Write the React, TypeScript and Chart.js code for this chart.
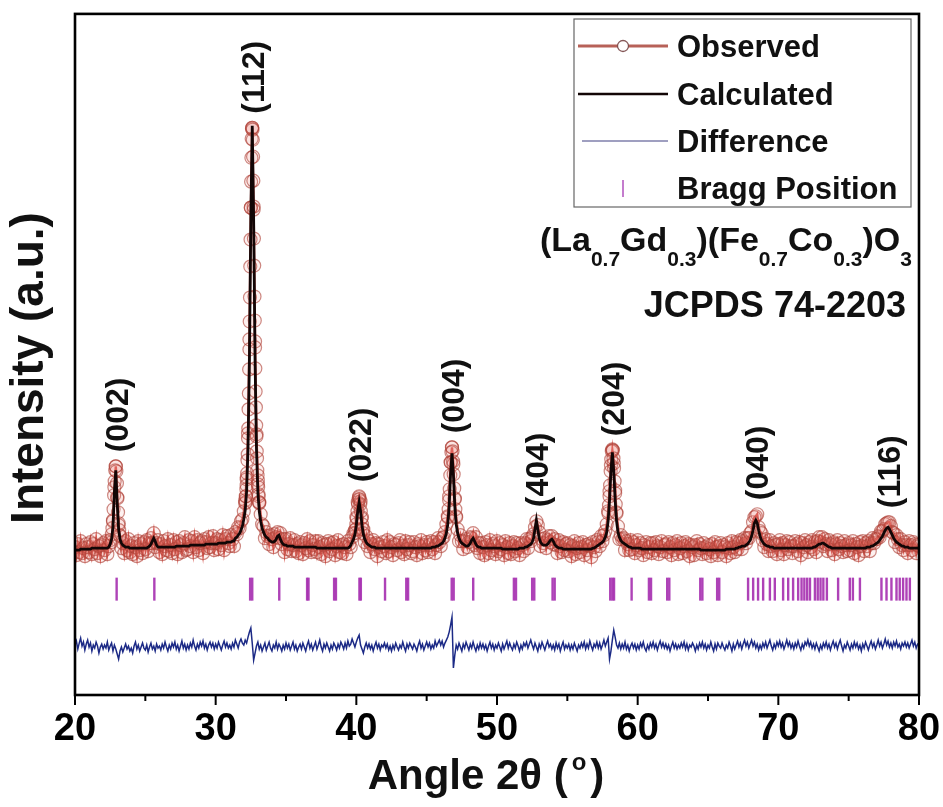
import { useEffect, useRef } from 'react';
import { Chart, registerables } from 'chart.js';

Chart.register(...registerables);

// ---------------- data ----------------
const ANGLE_START = 20;
const ANGLE_STEP = 0.1;

// Calculated profile (one row per degree, 0.1° step)
const calculated = [
  145,145,145,145,146,146,146,146,146,146, // 20
  146,146,147,147,147,147,147,147,147,147, // 21
  147,147,147,147,148,151,156,168,203,225, // 22
  192,166,156,152,150,149,148,148,148,147, // 23
  147,147,147,147,147,147,147,147,147,147, // 24
  147,147,148,149,151,154,157,154,150,148, // 25
  148,148,148,148,148,148,148,148,148,148, // 26
  148,148,149,149,149,149,149,149,149,149, // 27
  149,149,150,150,150,150,150,150,150,150, // 28
  150,150,150,151,151,151,151,151,151,151, // 29
  151,151,152,152,152,152,152,152,153,153, // 30
  153,153,154,154,157,158,160,162,165,169, // 31
  176,185,204,247,336,476,570,476,336,247, // 32
  203,184,174,167,163,160,158,157,155,154, // 33
  153,153,154,156,159,160,156,153,151,150, // 34
  150,149,149,149,149,149,148,148,148,148, // 35
  148,148,148,148,148,148,148,148,148,148, // 36
  148,148,147,147,147,147,147,147,147,147, // 37
  147,147,147,147,147,147,147,147,147,147, // 38
  147,147,147,147,147,148,150,153,156,161, // 39
  170,184,193,184,170,161,156,153,151,150, // 40
  149,148,148,148,147,147,147,147,147,147, // 41
  147,147,147,147,147,147,147,147,147,147, // 42
  147,147,147,147,147,147,147,147,147,147, // 43
  147,147,147,147,147,147,147,147,147,147, // 44
  147,147,147,147,148,148,148,149,149,150, // 45
  151,152,154,157,162,171,189,221,242,221, // 46
  189,171,162,157,154,152,151,150,149,149, // 47
  150,152,155,157,154,151,149,148,148,147, // 48
  147,147,147,147,147,147,147,147,147,147, // 49
  147,147,147,147,146,146,146,146,146,146, // 50
  146,146,146,146,146,146,147,147,147,147, // 51
  148,148,149,150,151,153,157,166,175,166, // 52
  157,153,151,150,150,150,151,153,155,156, // 53
  154,151,149,148,147,147,147,146,146,146, // 54
  146,146,146,146,146,146,146,146,146,146, // 55
  146,146,146,146,146,146,146,146,147,147, // 56
  148,149,150,151,152,153,155,158,163,174, // 57
  195,224,243,224,195,174,163,158,155,153, // 58
  152,151,150,149,148,148,147,147,147,147, // 59
  147,147,147,146,146,146,146,146,146,146, // 60
  146,146,146,146,146,146,146,146,146,146, // 61
  146,146,146,146,146,146,146,146,146,146, // 62
  146,146,146,146,146,146,146,146,146,146, // 63
  146,146,146,146,146,145,145,145,145,145, // 64
  145,145,145,145,145,145,145,145,145,145, // 65
  145,145,145,146,146,146,146,146,146,146, // 66
  147,147,148,148,149,149,149,150,151,153, // 67
  155,159,165,172,175,172,165,159,155,153, // 68
  151,150,149,149,148,148,148,147,147,147, // 69
  147,147,147,147,147,147,147,147,147,147, // 70
  147,147,147,147,147,147,147,147,147,147, // 71
  147,147,147,147,147,148,148,149,150,151, // 72
  151,152,152,151,150,149,148,148,147,147, // 73
  147,147,147,147,147,147,147,147,147,147, // 74
  147,147,147,147,147,147,147,147,147,147, // 75
  147,147,147,148,148,148,149,149,150,151, // 76
  152,153,155,157,159,162,165,167,168,166, // 77
  163,160,157,155,153,152,151,150,149,149, // 78
  148,148,148,147,147,147,147,147,147,147, // 79
  147, // 80
];

// Observed intensities (same 0.1° grid)
const observed = [
  148,140,151,143,154,142,147,139,151,148, // 20
  143,153,141,151,146,156,142,149,139,150, // 21
  152,145,154,141,149,155,153,174,208,229, // 22
  198,170,159,147,152,142,154,145,156,143, // 23
  149,141,152,148,139,154,145,151,142,153, // 24
  146,155,144,152,157,152,162,148,152,155, // 25
  143,151,141,154,149,145,156,144,150,142, // 26
  155,146,153,141,154,150,143,152,158,145, // 27
  146,155,149,154,143,158,148,155,145,152, // 28
  154,142,156,153,147,158,148,152,159,145, // 29
  152,156,146,155,150,160,145,156,159,152, // 30
  149,160,156,149,163,161,168,167,174,176, // 31
  184,195,216,262,356,488,568,486,354,261, // 32
  215,193,181,171,169,157,163,159,151,160, // 33
  156,148,161,158,163,157,162,151,156,143, // 34
  156,146,151,157,144,150,155,144,151,142, // 35
  153,150,141,152,147,156,145,154,143,150, // 36
  146,154,143,154,148,141,152,150,139,151, // 37
  154,144,152,146,153,140,149,155,143,150, // 38
  142,151,148,141,154,151,148,158,162,165, // 39
  178,193,199,194,178,166,153,159,149,154, // 40
  143,151,155,146,152,139,151,148,144,153, // 41
  149,142,155,144,153,148,140,151,150,145, // 42
  152,155,143,149,141,154,146,150,153,142, // 43
  144,153,148,140,151,149,155,142,150,145, // 44
  153,143,150,154,146,153,142,150,157,153, // 45
  149,157,158,163,171,179,199,233,248,231, // 46
  197,178,166,154,160,154,146,154,156,148, // 47
  153,158,157,162,150,158,147,152,142,152, // 48
  148,140,153,150,142,155,145,151,149,141, // 49
  154,144,152,146,150,140,154,148,142,152, // 50
  141,149,153,144,152,147,140,152,150,144, // 51
  152,156,147,156,154,158,161,168,174,170, // 52
  163,149,156,152,157,147,155,159,153,159, // 53
  151,156,150,142,155,149,143,153,145,151, // 54
  152,144,150,139,149,154,141,147,152,143, // 55
  148,153,140,150,145,151,149,138,153,148, // 56
  144,155,153,149,159,154,160,164,171,184, // 57
  204,230,245,232,205,182,169,156,160,156, // 58
  157,145,154,151,145,155,146,153,142,150, // 59
  155,145,152,147,140,150,153,143,148,152, // 60
  142,152,145,153,149,141,148,154,144,150, // 61
  151,143,153,148,140,152,145,150,154,141, // 62
  147,152,142,149,153,144,151,139,150,148, // 63
  140,150,154,145,151,147,141,152,148,142, // 64
  150,146,139,151,143,153,148,140,149,152, // 65
  143,150,148,139,152,147,142,154,148,143, // 66
  153,146,152,155,146,154,157,152,157,157, // 67
  162,164,173,178,179,181,168,164,162,155, // 68
  148,156,151,144,155,149,144,152,150,141, // 69
  151,155,145,152,141,150,154,146,153,149, // 70
  142,149,154,151,144,153,140,152,148,155, // 71
  150,143,153,148,155,146,153,143,154,158, // 72
  153,158,149,156,151,144,155,151,145,153, // 73
  141,151,155,146,152,149,143,154,150,144, // 74
  152,145,150,154,142,151,148,140,153,149, // 75
  154,144,152,149,154,144,152,157,152,156, // 76
  156,159,158,164,164,166,171,172,173,173, // 77
  169,163,162,153,160,156,148,156,150,145, // 78
  153,150,142,154,150,145,153,151,142,150, // 79
  149, // 80
];

// Finely sampled observed points across the strong reflections
const peak112Angles = [
  32.10,32.12,32.14,32.16,32.18,32.20,32.22,32.24,32.26,32.28,
  32.30,32.32,32.34,32.36,32.38,32.40,32.42,32.44,32.46,32.48,
  32.50,32.52,32.54,32.56,32.58,32.60,32.62,32.64,32.66,32.68,
  32.70,32.72,32.74,32.76,32.78,32.80,32.82,32.84,32.86,32.88,
  32.90,32.92,32.94,32.96,32.98,33.00,33.02,33.04,33.06,33.08,33.10,
];
const peak112Observed = [
  192,193,199,199,206,210,218,222,235,241,
  257,267,286,302,326,346,374,398,429,456,
  488,514,538,557,567,568,566,556,539,515,
  489,457,430,399,375,348,327,304,288,270,
  259,244,237,225,220,211,208,201,199,193,192,
];
const peak002Angles = [22.62,22.66,22.70,22.74,22.78,22.82,22.86,22.90,22.94,22.98,23.02,23.06,23.10,23.14,23.18];
const peak002Observed = [161,167,175,186,200,214,225,229,224,212,197,183,172,165,160];
const peak022Angles = [39.92,39.96,40.00,40.04,40.08,40.12,40.16,40.20,40.24,40.28,40.32,40.36,40.40,40.44,40.48];
const peak022Observed = [162,166,171,177,184,191,196,198,196,191,184,177,171,166,162];
const peak004Angles = [46.52,46.56,46.60,46.64,46.68,46.72,46.76,46.80,46.84,46.88,46.92,46.96,47.00,47.04,47.08];
const peak004Observed = [178,186,195,206,220,233,243,248,244,234,221,207,196,186,179];
const peak204Angles = [57.92,57.96,58.00,58.04,58.08,58.12,58.16,58.20,58.24,58.28,58.32,58.36,58.40,58.44,58.48];
const peak204Observed = [182,190,199,210,224,236,244,246,245,237,227,214,202,191,183];

// Difference curve (observed - calculated, shifted below the pattern)
const difference = [
  50,54,46,52,57,49,53,45,51,55, // 20
  48,52,44,50,47,53,49,42,48,51, // 21
  46,50,47,53,45,49,52,44,50,46, // 22
  41,36,44,48,43,47,51,46,49,44, // 23
  47,42,49,53,46,50,44,48,52,47, // 24
  45,50,43,48,52,46,49,44,51,47, // 25
  49,45,51,47,53,48,44,50,46,52, // 26
  48,53,46,50,44,49,54,47,51,45, // 27
  50,46,52,48,55,49,45,51,47,53, // 28
  49,54,47,51,45,50,53,48,52,46, // 29
  51,47,53,49,45,50,54,48,52,47, // 30
  50,46,52,48,55,51,47,53,56,52, // 31
  50,55,52,58,63,67,52,35,42,49, // 32
  53,46,50,44,48,52,45,49,53,47, // 33
  44,50,47,53,46,51,48,44,50,46, // 34
  52,47,51,45,49,53,46,50,44,48, // 35
  51,46,52,48,44,50,54,47,51,45, // 36
  49,53,46,50,55,48,44,51,47,52, // 37
  48,44,50,46,52,49,45,51,47,53, // 38
  50,46,52,47,54,49,51,56,52,48, // 39
  53,57,60,50,46,42,48,52,47,51, // 40
  46,50,44,49,53,47,51,45,50,48, // 41
  52,47,51,45,49,44,50,46,52,48, // 42
  45,50,47,53,48,44,51,47,52,49, // 43
  46,51,48,44,50,54,47,51,45,49, // 44
  53,48,52,46,50,47,54,49,52,55, // 45
  50,54,48,52,55,58,63,70,78,27, // 46
  40,50,46,52,48,44,51,47,53,49, // 47
  45,51,47,53,48,44,50,46,52,47, // 48
  51,46,50,44,49,53,47,51,45,50, // 49
  47,52,48,44,51,46,50,54,47,52, // 50
  48,45,51,47,53,49,44,50,46,52, // 51
  49,53,47,51,55,50,46,52,48,44, // 52
  51,47,53,49,45,50,54,48,51,46, // 53
  50,45,52,47,51,44,49,53,46,50, // 54
  47,51,45,50,46,52,48,44,50,47, // 55
  52,48,53,46,51,47,54,49,45,51, // 56
  48,53,47,52,46,50,55,49,53,57, // 57
  36,44,55,65,58,50,47,52,46,51, // 58
  47,53,46,50,44,49,52,47,51,45, // 59
  50,46,52,48,53,47,44,50,46,52, // 60
  48,53,47,51,45,50,54,48,52,47, // 61
  51,46,50,44,49,53,47,51,46,50, // 62
  47,52,48,53,46,51,45,50,48,52, // 63
  49,44,50,46,52,48,53,47,51,45, // 64
  50,47,53,48,44,51,46,52,49,47, // 65
  52,48,45,50,47,53,49,44,51,46, // 66
  50,54,48,52,46,51,55,49,53,47, // 67
  51,55,49,53,47,51,45,50,46,52, // 68
  48,53,47,51,55,49,45,51,47,53, // 69
  49,54,48,52,46,50,55,49,53,47, // 70
  51,46,52,48,54,49,45,51,47,53, // 71
  50,55,49,53,47,51,46,52,48,44, // 72
  50,46,52,48,53,47,51,45,50,54, // 73
  48,52,46,51,55,49,44,50,47,53, // 74
  49,45,51,47,53,48,52,46,50,44, // 75
  51,47,53,49,45,50,54,48,52,46, // 76
  50,55,49,53,47,51,56,50,54,48, // 77
  52,47,53,49,54,48,51,46,52,49, // 78
  53,48,52,47,51,55,49,53,47,51, // 79
  50, // 80
];

// Bragg reflection positions (2θ)
const braggPositions = [
  22.96, 25.64, 32.45, 32.6, 34.52, 36.5, 36.6, 38.42, 38.55, 40.22, 40.32,
  42.04, 43.55, 43.68, 46.78, 46.92, 48.31, 51.2, 51.35, 52.5, 52.65, 53.95,
  54.1, 58.05, 58.2, 58.32, 59.57, 60.8, 60.95, 62.1, 62.25, 64.45, 64.6,
  65.65, 65.8, 67.85, 68.21, 68.56, 68.92, 69.4, 69.75, 70.34, 70.7, 71.05,
  71.41, 71.65, 71.85, 72.05, 72.25, 72.6, 72.8, 73.0, 73.2, 73.45, 74.25,
  75.08, 75.3, 75.8, 77.33, 77.69, 78.04, 78.4, 78.63, 78.87, 79.11, 79.35,
];
const BRAGG_LEVEL = 106;

const peakLabels = ['(002)', '(112)', '(022)', '(004)', '(404)', '(204)', '(040)', '(116)'];
const peakAngles = [22.9, 32.6, 40.2, 46.8, 52.8, 58.2, 68.4, 77.8];

const majorTicks = [20, 30, 40, 50, 60, 70, 80];
const minorTicks = [25, 35, 45, 55, 65, 75];

const legendLabels = ['Observed', 'Calculated', 'Difference', 'Bragg Position'];
const formulaParts: [string, boolean][] = [
  ['(La', false], ['0.7', true], ['Gd', false], ['0.3', true], [')(Fe', false],
  ['0.7', true], ['Co', false], ['0.3', true], [')O', false], ['3', true],
];
const cardText = 'JCPDS 74-2203';
const xTitle = 'Angle 2θ (';
const yTitle = 'Intensity (a.u.)';

// ---------------- styling ----------------
const SANS = "'Liberation Sans', Arial, Helvetica, sans-serif";
const OBS_LINE = 'rgba(205,45,35,0.8)';
const OBS_POINT = 'rgba(175,65,55,0.62)';
const OBS_FILL = 'rgba(235,120,110,0.10)';
const CALC_COLOR = '#120606';
const DIFF_COLOR = '#1c2a86';
const BRAGG_COLOR = 'rgba(165,45,175,0.9)';

const overlayPlugin = {
  id: 'xrdOverlay',
  afterDraw(chart: any) {
    const { ctx, chartArea: a, scales } = chart;
    const xs = scales.x;
    const ys = scales.y;
    ctx.save();

    // frame
    ctx.strokeStyle = '#000';
    ctx.lineWidth = 2.6;
    ctx.strokeRect(a.left, a.top, a.right - a.left, a.bottom - a.top);

    // ticks on the bottom axis
    ctx.lineWidth = 2;
    const tick = (v: number, len: number) => {
      const px = xs.getPixelForValue(v);
      ctx.beginPath();
      ctx.moveTo(px, a.bottom);
      ctx.lineTo(px, a.bottom + len);
      ctx.stroke();
    };
    majorTicks.forEach((v) => tick(v, 10));
    minorTicks.forEach((v) => tick(v, 6));

    // peak labels
    ctx.fillStyle = '#111';
    ctx.font = `bold 32px ${SANS}`;
    ctx.textAlign = 'left';
    ctx.textBaseline = 'middle';
    peakLabels.forEach((lab, k) => {
      const ang = peakAngles[k];
      let maxV = 0;
      observed.forEach((v, i) => {
        const x = ANGLE_START + i * ANGLE_STEP;
        if (Math.abs(x - ang) <= 0.25 && v > maxV) maxV = v;
      });
      const px = xs.getPixelForValue(ang) + 3;
      const py = ys.getPixelForValue(maxV) - 14;
      ctx.save();
      ctx.translate(px, py);
      ctx.rotate(-Math.PI / 2);
      ctx.fillText(lab, 0, 0);
      ctx.restore();
    });

    // legend box
    const lx = 574, ly = 19, lw = 337, lh = 188;
    ctx.fillStyle = '#fff';
    ctx.fillRect(lx, ly, lw, lh);
    ctx.strokeStyle = '#666';
    ctx.lineWidth = 1.2;
    ctx.strokeRect(lx, ly, lw, lh);
    const rowsBase = [57, 105, 152, 199];
    const sx0 = 578, sx1 = 668, tx = 677;
    // Observed sample
    let cy = rowsBase[0] - 11;
    ctx.strokeStyle = 'rgba(175,80,70,0.9)';
    ctx.lineWidth = 3;
    ctx.beginPath(); ctx.moveTo(sx0, cy); ctx.lineTo(sx1, cy); ctx.stroke();
    ctx.fillStyle = '#fff';
    ctx.strokeStyle = 'rgba(120,70,70,0.9)';
    ctx.lineWidth = 1.3;
    ctx.beginPath(); ctx.arc(623, cy, 5.5, 0, Math.PI * 2); ctx.fill(); ctx.stroke();
    // Calculated sample
    cy = rowsBase[1] - 11;
    ctx.strokeStyle = CALC_COLOR;
    ctx.lineWidth = 2.6;
    ctx.beginPath(); ctx.moveTo(sx0, cy); ctx.lineTo(sx1, cy); ctx.stroke();
    // Difference sample
    cy = rowsBase[2] - 11;
    ctx.strokeStyle = 'rgba(95,95,150,0.8)';
    ctx.lineWidth = 1.5;
    ctx.beginPath(); ctx.moveTo(sx0 + 4, cy); ctx.lineTo(sx1, cy); ctx.stroke();
    // Bragg sample
    cy = rowsBase[3] - 11;
    ctx.strokeStyle = 'rgba(190,110,200,0.9)';
    ctx.lineWidth = 2;
    ctx.beginPath(); ctx.moveTo(623, cy - 8); ctx.lineTo(623, cy + 9); ctx.stroke();

    ctx.fillStyle = '#111';
    ctx.font = `bold 31px ${SANS}`;
    ctx.textBaseline = 'alphabetic';
    ctx.textAlign = 'left';
    legendLabels.forEach((t, i) => ctx.fillText(t, tx, rowsBase[i]));

    // formula (right aligned)
    const mainFont = `bold 34px ${SANS}`;
    const subFont = `bold 21px ${SANS}`;
    let total = 0;
    formulaParts.forEach(([t, sub]) => {
      ctx.font = sub ? subFont : mainFont;
      total += ctx.measureText(t).width;
    });
    let fx = 912 - total;
    formulaParts.forEach(([t, sub]) => {
      ctx.font = sub ? subFont : mainFont;
      ctx.fillText(t, fx, sub ? 266 : 251);
      fx += ctx.measureText(t).width;
    });

    ctx.font = `bold 36px ${SANS}`;
    ctx.textAlign = 'right';
    ctx.fillText(cardText, 906, 317);

    // x title with superscript degree
    const tFont = `bold 42px ${SANS}`;
    const supFont = `bold 24px ${SANS}`;
    ctx.textAlign = 'left';
    ctx.font = tFont;
    const w1 = ctx.measureText(xTitle).width;
    const wp = ctx.measureText(')').width;
    ctx.font = supFont;
    const wo = ctx.measureText('o').width;
    const gap = 4;
    const totalT = w1 + gap + wo + gap + wp;
    let tx0 = 486 - totalT / 2;
    ctx.font = tFont;
    ctx.fillText(xTitle, tx0, 789);
    tx0 += w1 + gap;
    ctx.font = supFont;
    ctx.fillText('o', tx0, 770);
    tx0 += wo + gap;
    ctx.font = tFont;
    ctx.fillText(')', tx0, 789);

    // y title
    ctx.save();
    ctx.translate(30, 368);
    ctx.rotate(-Math.PI / 2);
    ctx.font = `bold 46px ${SANS}`;
    ctx.textAlign = 'center';
    ctx.textBaseline = 'middle';
    ctx.fillText(yTitle, 0, 0);
    ctx.restore();

    ctx.restore();
  },
};

const pts = (xs: number[], ys: number[]) => xs.map((x, i) => ({ x, y: ys[i] }));

export default function App() {
  const ref = useRef<HTMLCanvasElement | null>(null);

  useEffect(() => {
    document.body.style.margin = '0';
    const canvas = ref.current;
    if (!canvas) return;
    const angles = calculated.map((_, i) => Math.round((ANGLE_START + i * ANGLE_STEP) * 10) / 10);
    const fine = [
      ...pts(peak002Angles, peak002Observed),
      ...pts(peak112Angles, peak112Observed),
      ...pts(peak022Angles, peak022Observed),
      ...pts(peak004Angles, peak004Observed),
      ...pts(peak204Angles, peak204Observed),
    ];
    const chart = new Chart(canvas, {
      type: 'scatter',
      data: {
        datasets: [
          {
            label: 'Calculated',
            data: pts(angles, calculated),
            showLine: true,
            borderColor: CALC_COLOR,
            borderWidth: 2.8,
            pointRadius: 0,
            order: 0,
          },
          {
            label: 'Observed (fine)',
            data: fine,
            showLine: false,
            pointRadius: 6.5,
            pointBorderWidth: 1.2,
            pointBorderColor: OBS_POINT,
            pointBackgroundColor: OBS_FILL,
            order: 1,
          },
          {
            label: 'Observed',
            data: pts(angles, observed),
            showLine: true,
            borderColor: OBS_LINE,
            borderWidth: 2.4,
            pointRadius: 6.5,
            pointBorderWidth: 1.2,
            pointBorderColor: OBS_POINT,
            pointBackgroundColor: OBS_FILL,
            order: 2,
          },
          {
            label: 'Difference',
            data: pts(angles, difference),
            showLine: true,
            borderColor: DIFF_COLOR,
            borderWidth: 1.5,
            pointRadius: 0,
            order: 3,
          },
          {
            label: 'Bragg Position',
            data: braggPositions.map((x) => ({ x, y: BRAGG_LEVEL })),
            showLine: false,
            pointStyle: 'line',
            rotation: 90,
            pointRadius: 11.5,
            pointBorderWidth: 2.4,
            pointBorderColor: BRAGG_COLOR,
            borderColor: BRAGG_COLOR,
            order: 4,
          },
        ],
      },
      options: {
        animation: false,
        responsive: false,
        devicePixelRatio: 1,
        layout: { padding: { left: 75, right: 24, top: 13, bottom: 0 } },
        plugins: { legend: { display: false }, tooltip: { enabled: false } },
        scales: {
          x: {
            type: 'linear',
            min: 20,
            max: 80,
            grid: { display: false, drawTicks: false },
            border: { display: false },
            ticks: {
              stepSize: 10,
              color: '#000',
              padding: 12,
              maxRotation: 0,
              autoSkip: false,
              font: { family: SANS, size: 38, weight: 'bold' },
            },
            afterFit: (s: any) => {
              s.height = 112;
              s.paddingLeft = 0;
              s.paddingRight = 0;
            },
          },
          y: {
            display: false,
            min: 0,
            max: 682,
          },
        },
      },
      plugins: [overlayPlugin],
    } as any);
    return () => chart.destroy();
  }, []);

  return (
    <div style={{ width: 943, height: 807, background: '#fff' }}>
      <canvas ref={ref} width={943} height={807} style={{ display: 'block' }} />
    </div>
  );
}
